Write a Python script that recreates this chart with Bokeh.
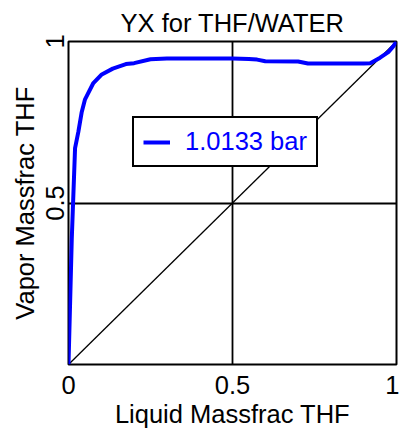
from bokeh.plotting import figure
from bokeh.models import Range1d, FixedTicker
from bokeh.embed import file_html
from bokeh.resources import INLINE

# Liquid mass fraction THF (x) and vapor mass fraction THF (y) at 1.0133 bar
liquid_thf = [0.0, 0.01, 0.02, 0.03, 0.04, 0.05, 0.075, 0.1, 0.135, 0.175, 0.2,
              0.25, 0.3, 0.4, 0.5, 0.55, 0.575, 0.6, 0.7, 0.73, 0.8, 0.9, 0.92,
              0.95, 0.975, 0.99, 1.0]
vapor_thf = [0.0, 0.39, 0.67, 0.72, 0.78, 0.82, 0.87, 0.897, 0.916, 0.93, 0.933,
             0.945, 0.947, 0.947, 0.947, 0.946, 0.944, 0.939, 0.938, 0.932, 0.932,
             0.932, 0.933, 0.95, 0.967, 0.985, 1.0]
diag = [0.0, 1.0]
x_ticks = [0, 0.5, 1]
y_ticks = [0.5, 1]
series_label = "1.0133 bar"

FONT = "Liberation Sans"
FS = "25.5px"

p = figure(width=399, height=430, output_backend="svg", toolbar_location=None,
           x_range=Range1d(0, 1), y_range=Range1d(0, 1),
           min_border_left=68, min_border_right=3, min_border_top=41,
           min_border_bottom=65, title="YX for THF/WATER")

p.title.text_font = FONT
p.title.text_font_size = FS
p.title.text_font_style = "normal"
p.title.align = "center"
p.title.text_color = "black"

p.outline_line_color = "black"
p.outline_line_width = 2
p.outline_line_alpha = 1

p.xaxis.ticker = FixedTicker(ticks=x_ticks)
p.yaxis.ticker = FixedTicker(ticks=y_ticks)
p.xaxis.major_label_overrides = {0: "0", 0.5: "0.5", 1: "1"}
p.yaxis.major_label_overrides = {0.5: "0.5", 1: "1"}

for ax in (p.xaxis[0], p.yaxis[0]):
    ax.axis_line_color = None
    ax.major_tick_line_color = None
    ax.minor_tick_line_color = None
    ax.major_tick_out = 0
    ax.major_tick_in = 0
    ax.major_label_text_font = FONT
    ax.major_label_text_font_size = FS
    ax.major_label_text_color = "black"
    ax.axis_label_text_font = FONT
    ax.axis_label_text_font_size = FS
    ax.axis_label_text_font_style = "normal"
    ax.axis_label_text_color = "black"

p.xaxis.axis_label = "Liquid Massfrac THF"
p.yaxis.axis_label = "Vapor Massfrac THF"
p.xaxis.major_label_standoff = 11
p.xaxis.axis_label_standoff = 3
p.yaxis.major_label_orientation = "vertical"
p.yaxis.major_label_standoff = 5
p.yaxis.axis_label_standoff = 4

for g in (p.xgrid[0], p.ygrid[0]):
    g.grid_line_color = "black"
    g.grid_line_width = 1.8
    g.grid_line_alpha = 1
p.xgrid.ticker = FixedTicker(ticks=[0.5])
p.ygrid.ticker = FixedTicker(ticks=[0.5])

p.line(diag, diag, line_color="black", line_width=1.3)
p.line(liquid_thf, vapor_thf, line_color="#0000FF", line_width=4,
       legend_label=series_label)

lg = p.legend[0]
lg.location = (64, 197)
lg.border_line_color = "black"
lg.border_line_width = 2
lg.border_line_alpha = 1
lg.background_fill_color = "white"
lg.background_fill_alpha = 1
lg.label_text_color = "#0000FF"
lg.label_text_font = FONT
lg.label_text_font_size = FS
lg.glyph_width = 27
lg.label_standoff = 15
lg.padding = 9
lg.margin = 0
lg.spacing = 0

open("out.html", "w").write(file_html(p, INLINE))
